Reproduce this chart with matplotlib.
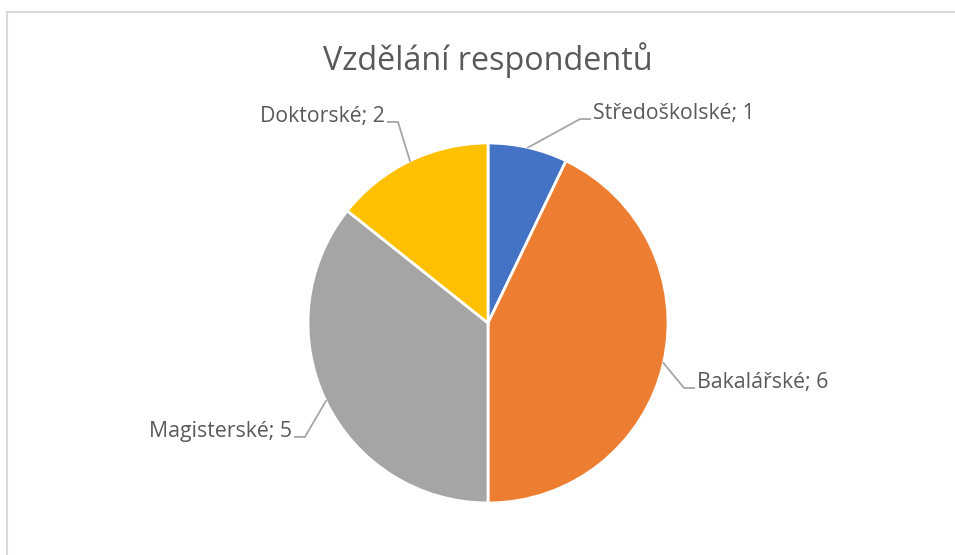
import numpy as np
import matplotlib.pyplot as plt

# data
kategorie = ["Středoškolské", "Bakalářské", "Magisterské", "Doktorské"]
pocty = [1, 6, 5, 2]
barvy = ["#4472C4", "#ED7D31", "#A5A5A5", "#FFC000"]

# pozice zalomení vodicích čar (datové souřadnice, poloměr = 1) a směr popisku
zlomy = [(0.511, 1.133, 1), (1.089, -0.361, 1), (-1.017, -0.633, -1), (-0.500, 1.117, -1)]

plt.rcParams['font.family'] = ['Open Sans', 'DejaVu Sans']
text_barva = "#595959"

fig = plt.figure(figsize=(9.55, 5.55), dpi=100)

# rámeček grafu
ramecek = plt.Rectangle((7 / 955, -0.05), 1.1, (555 - 12) / 555 + 0.05,
                        transform=fig.transFigure, fill=False,
                        edgecolor="#d9d9d9", linewidth=1.5)
fig.patches.append(ramecek)

ax = fig.add_axes([308 / 955, 52 / 555, 360 / 955, 360 / 555])
wedges, _ = ax.pie(pocty, colors=barvy, startangle=90, counterclock=False,
                   wedgeprops=dict(edgecolor="white", linewidth=2))
ax.set_xlim(-1, 1)
ax.set_ylim(-1, 1)
ax.set_aspect("equal")
ax.axis("off")

for w, kat, n, (zx, zy, smer) in zip(wedges, kategorie, pocty, zlomy):
    uhel = np.deg2rad((w.theta1 + w.theta2) / 2)
    x0, y0 = np.cos(uhel), np.sin(uhel)
    x_konec = zx + smer * 0.056
    ax.plot([x0, zx, x_konec], [y0, zy, zy], color="#A6A6A6", linewidth=1.3,
            clip_on=False, solid_joinstyle="miter")
    ax.text(x_konec + smer * 0.017, zy + 0.03, f"{kat}; {n}",
            ha="left" if smer > 0 else "right", va="center",
            fontsize=15.3, color=text_barva, clip_on=False)

fig.text(488 / 955, 1 - 60 / 555, "Vzdělání respondentů", ha="center", va="center",
         fontsize=23.3, color=text_barva)

fig.savefig("out.png", dpi=100)
